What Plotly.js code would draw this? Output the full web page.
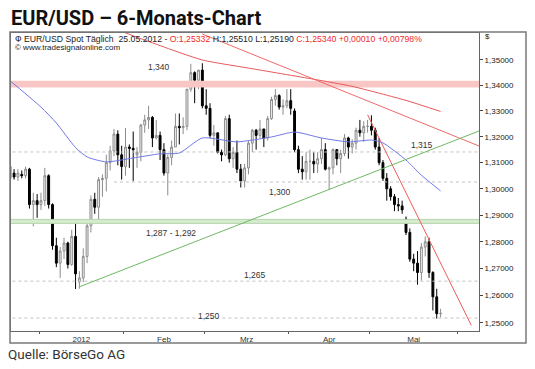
<!DOCTYPE html>
<html><head><meta charset="utf-8">
<script src="https://cdn.plot.ly/plotly-3.0.1.min.js"></script>
<style>html,body{margin:0;padding:0;background:#fff}#chart{width:535px;height:369px}</style>
</head><body><div id="chart"></div>
<script>
// ---------- DATA ----------
const dates = [
'2011-12-21','2011-12-22','2011-12-23','2011-12-26','2011-12-27','2011-12-28','2011-12-29','2011-12-30',
'2012-01-02','2012-01-03','2012-01-04','2012-01-05','2012-01-06','2012-01-09','2012-01-10','2012-01-11','2012-01-12','2012-01-13',
'2012-01-16','2012-01-17','2012-01-18','2012-01-19','2012-01-20','2012-01-23','2012-01-24','2012-01-25','2012-01-26','2012-01-27','2012-01-30','2012-01-31',
'2012-02-01','2012-02-02','2012-02-03','2012-02-06','2012-02-07','2012-02-08','2012-02-09','2012-02-10','2012-02-13','2012-02-14','2012-02-15',
'2012-02-16','2012-02-17','2012-02-20','2012-02-21','2012-02-22','2012-02-23','2012-02-24','2012-02-27','2012-02-28','2012-02-29',
'2012-03-01','2012-03-02','2012-03-05','2012-03-06','2012-03-07','2012-03-08','2012-03-09','2012-03-12','2012-03-13','2012-03-14','2012-03-15',
'2012-03-16','2012-03-19','2012-03-20','2012-03-21','2012-03-22','2012-03-23','2012-03-26','2012-03-27','2012-03-28','2012-03-29','2012-03-30',
'2012-04-02','2012-04-03','2012-04-04','2012-04-05','2012-04-06','2012-04-09','2012-04-10','2012-04-11','2012-04-12','2012-04-13','2012-04-16',
'2012-04-17','2012-04-18','2012-04-19','2012-04-20','2012-04-23','2012-04-24','2012-04-25','2012-04-26','2012-04-27','2012-04-30',
'2012-05-01','2012-05-02','2012-05-03','2012-05-04','2012-05-07','2012-05-08','2012-05-09','2012-05-10','2012-05-11','2012-05-14',
'2012-05-15','2012-05-16','2012-05-17','2012-05-18','2012-05-21','2012-05-22','2012-05-23','2012-05-24','2012-05-25'];

const open = [
1.3040,1.3060,1.3045,1.3055,1.3050,1.3075,1.2940,1.2955,
1.2940,1.2955,1.3050,1.2940,1.2785,1.2720,1.2765,1.2795,1.2715,1.2820,
1.2650,1.2665,1.2745,1.2860,1.2960,1.2930,1.3035,1.3040,1.3100,1.3145,1.3210,1.3130,
1.3085,1.3160,1.3155,1.3130,1.3140,1.3245,1.3265,1.3275,1.3195,1.3205,1.3150,
1.3060,1.3120,1.3160,1.3240,1.3235,1.3240,1.3385,1.3450,1.3420,1.3460,
1.3320,1.3310,1.3205,1.3215,1.3140,1.3130,1.3270,1.3115,1.3140,1.3075,1.3030,
1.3080,1.3175,1.3225,1.3205,1.3230,1.3195,1.3270,1.3345,1.3360,1.3315,1.3320,
1.3340,1.3300,1.3150,1.3075,1.3065,1.3105,1.3105,1.3095,1.3115,1.3150,1.3075,
1.3080,1.3150,1.3115,1.3135,1.3195,1.3160,1.3175,1.3225,1.3215,1.3240,
1.3240,1.3225,1.3160,1.3100,1.3040,1.3000,1.2970,1.2940,1.2935,1.2885,
1.2835,1.2735,1.2720,1.2685,1.2780,1.2800,1.2685,1.2595,1.25332];
const high = [
1.3095,1.3075,1.3075,1.3070,1.3085,1.3080,1.2985,1.2980,
1.2985,1.3080,1.3055,1.2945,1.2815,1.2780,1.2815,1.2800,1.2845,1.2880,
1.2690,1.2775,1.2870,1.2975,1.2985,1.3045,1.3055,1.3130,1.3165,1.3230,1.3225,1.3165,
1.3234,1.3170,1.3220,1.3160,1.3250,1.3285,1.3320,1.3280,1.3265,1.3220,1.3175,
1.3130,1.3185,1.3290,1.3290,1.3275,1.3385,1.3485,1.3455,1.3460,1.3487,
1.3385,1.3330,1.3245,1.3215,1.3150,1.3280,1.3285,1.3160,1.3185,1.3095,1.3095,
1.3185,1.3230,1.3230,1.3265,1.3230,1.3280,1.3355,1.3385,1.3365,1.3345,1.3385,
1.3385,1.3310,1.3165,1.3125,1.3140,1.3150,1.3140,1.3140,1.3195,1.3175,1.3085,
1.3155,1.3150,1.3150,1.3210,1.3200,1.3190,1.3235,1.3265,1.3260,1.3265,
1.3283,1.3235,1.3195,1.3110,1.3060,1.3010,1.2980,1.2965,1.2955,1.2895,
1.2850,1.2755,1.2765,1.2795,1.2820,1.2815,1.2690,1.2625,1.25510];
const low = [
1.3015,1.3035,1.3030,1.3040,1.3040,1.2925,1.2858,1.2890,
1.2920,1.2935,1.2925,1.2770,1.2705,1.2665,1.2735,1.2700,1.2710,1.2624,
1.2625,1.2650,1.2720,1.2835,1.2905,1.2880,1.2970,1.2990,1.3070,1.3125,1.3090,1.3035,
1.3050,1.3080,1.3030,1.3080,1.3105,1.3215,1.3230,1.3160,1.3190,1.3110,1.3050,
1.2975,1.3090,1.3160,1.3170,1.3210,1.3225,1.3375,1.3330,1.3385,1.3310,
1.3285,1.3195,1.3165,1.3135,1.3105,1.3125,1.3100,1.3080,1.3060,1.3005,1.3005,
1.3055,1.3140,1.3150,1.3195,1.3160,1.3185,1.3265,1.3320,1.3305,1.3285,1.3310,
1.3285,1.3140,1.3060,1.3035,1.3035,1.3035,1.3060,1.3060,1.3095,1.3070,1.2995,
1.3055,1.3090,1.3060,1.3125,1.3115,1.3135,1.3150,1.3200,1.3180,1.3215,
1.3205,1.3150,1.3090,1.3030,1.2955,1.2955,1.2915,1.2915,1.2905,1.2825,
1.2725,1.2690,1.2640,1.2655,1.2745,1.2665,1.2545,1.2515,1.25190];
const close = [
1.3085,1.3045,1.3060,1.3050,1.3075,1.2940,1.2955,1.2940,
1.2955,1.3050,1.2940,1.2785,1.2720,1.2765,1.2795,1.2715,1.2820,1.2680,
1.2665,1.2745,1.2860,1.2960,1.2930,1.3035,1.3040,1.3100,1.3145,1.3210,1.3130,1.3085,
1.3160,1.3155,1.3150,1.3140,1.3245,1.3265,1.3275,1.3195,1.3205,1.3150,1.3060,
1.3120,1.3160,1.3240,1.3235,1.3240,1.3385,1.3450,1.3420,1.3460,1.3320,
1.3310,1.3205,1.3215,1.3140,1.3130,1.3270,1.3115,1.3140,1.3075,1.3030,1.3080,
1.3175,1.3225,1.3205,1.3230,1.3195,1.3270,1.3345,1.3360,1.3315,1.3320,1.3340,
1.3310,1.3150,1.3075,1.3065,1.3105,1.3105,1.3095,1.3115,1.3150,1.3075,1.3080,
1.3150,1.3115,1.3135,1.3195,1.3160,1.3175,1.3225,1.3215,1.3240,1.3240,
1.3225,1.3160,1.3100,1.3040,1.3000,1.2970,1.2940,1.2935,1.2920,1.2835,
1.2735,1.2720,1.2685,1.2780,1.2800,1.2685,1.2595,1.25330,1.25340];

// moving average (blue)
const maBlueDates = ['2011-12-20','2012-01-02','2012-01-06','2012-01-13','2012-01-18','2012-01-25','2012-02-03','2012-02-14','2012-02-21','2012-02-29','2012-03-13','2012-03-26','2012-04-03','2012-04-12','2012-04-23','2012-05-01','2012-05-04','2012-05-14','2012-05-18','2012-05-25'];
const maBlueValues = [1.3430,1.3315,1.3253,1.3158,1.3122,1.3103,1.3118,1.3134,1.3137,1.3195,1.3180,1.3199,1.3218,1.3195,1.3180,1.3187,1.3176,1.3110,1.3052,1.2992];
// moving average (red)
const maRedDates = ['2012-01-27','2012-02-08','2012-02-29','2012-03-16','2012-04-10','2012-04-24','2012-05-14','2012-05-25'];
const maRedValues = [1.3625,1.3579,1.3500,1.3468,1.3424,1.3396,1.3341,1.3298];

// trend lines
const trendRedLongDates = ['2012-02-29','2012-06-08'];
const trendRedLongValues = [1.3603,1.3164];
const trendRedSteepDates = ['2012-04-30','2012-06-06'];
const trendRedSteepValues = [1.3285,1.2490];
const trendGreenDates = ['2012-01-16','2012-06-08'];
const trendGreenValues = [1.2632,1.3222];

// horizontal levels
const levelValues = [1.3141,1.3026,1.2653,1.2517];
const levelStart = ['2011-12-20','2012-01-27','2011-12-20','2011-12-20'];
const levelLabels = ['1,315','1,300','1,265','1,250'];
const resistanceBand = [1.3392,1.3418];
const resistanceLabel = '1,340';
const supportBand = [1.2869,1.2884];
const supportLabel = '1,287 - 1,292';

const monthStarts = ['2012-01-02','2012-02-01','2012-03-01','2012-04-02','2012-05-01','2012-06-01'];
const monthLabels = ['2012','Feb','Mrz','Apr','Mai'];
const yTickValues = [1.25,1.26,1.27,1.28,1.29,1.30,1.31,1.32,1.33,1.34,1.35];

// ---------- HELPERS ----------
function tIdx(s){
  const day=86400000, base=Date.UTC(2012,0,2);
  const p=s.split('-').map(Number), t=Date.UTC(p[0],p[1]-1,p[2]);
  let n=0;
  if(t>=base){for(let c=base+day;c<=t;c+=day){const w=new Date(c).getUTCDay(); if(w>0&&w<6)n++;}}
  else{for(let c=t;c<base;c+=day){const w=new Date(c).getUTCDay(); if(w>0&&w<6)n--;}}
  return n;
}
const fmt5 = v => v.toFixed(5).replace('.',',');
const W=535,H=369, L=11,R=56,T=33,B=38;
const PW=W-L-R, PH=H-T-B;
const px = x => (x-L)/PW;
const py = y => (H-B-y)/PH;

const X = dates.map(tIdx);
const xLeft = tIdx('2011-12-20'), xRight = tIdx('2012-06-11');
const traces = [];
const FONT = 'Liberation Sans, Arial, sans-serif';

function band(v, fill, edge){
  traces.push({type:'scatter',mode:'lines',x:[xLeft,xRight,xRight,xLeft,xLeft],y:[v[0],v[0],v[1],v[1],v[0]],
    fill:'toself',fillcolor:fill,line:{width:edge?1:0,color:edge||fill},hoverinfo:'skip',showlegend:false});
}
band(resistanceBand,'#f9c6c6',null);
band(supportBand,'#d6ead0','#b4d6aa');

levelValues.forEach((v,i)=>{
  traces.push({type:'scatter',mode:'lines',x:[tIdx(levelStart[i]),xRight],y:[v,v],
    line:{color:'#c2c2c2',width:1,dash:'dot'},hoverinfo:'skip',showlegend:false});
});

traces.push({type:'candlestick',x:X,open:open,high:high,low:low,close:close,
  increasing:{line:{color:'#8c8c8c',width:1},fillcolor:'#f4f4f4'},
  decreasing:{line:{color:'#000000',width:1},fillcolor:'#000000'},
  whiskerwidth:0,hoverinfo:'skip',showlegend:false});

function line(ds,vs,color){
  traces.push({type:'scatter',mode:'lines',x:ds.map(tIdx),y:vs,line:{color:color,width:1,shape:'spline',smoothing:0.6},hoverinfo:'skip',showlegend:false});
}
line(maBlueDates,maBlueValues,'#6f78e6');
line(maRedDates,maRedValues,'#e8595b');
line(trendRedLongDates,trendRedLongValues,'#ee6a6a');
line(trendRedSteepDates,trendRedSteepValues,'#f05a5a');
line(trendGreenDates,trendGreenValues,'#6fb865');

// month ticks
const bounds = monthStarts.map(d=>tIdx(d)-0.5);
const centers = monthLabels.map((_,i)=>(bounds[i]+bounds[i+1])/2);

// header text from data
const n = close.length-1;
const chg = close[n]-close[n-1];
const pct = chg/close[n-1]*100;
const sign = v => (v>=0?'+':'-');
const RED = '#f02a2a';
const d = dates[n].split('-');
const header = 'Ф EUR/USD Spot Täglich  '+d[2]+'.'+d[1]+'.'+d[0]+' - '+
  '<span style="color:'+RED+'">O:'+fmt5(open[n])+'</span> H:'+fmt5(high[n])+' L:'+fmt5(low[n])+' '+
  '<span style="color:'+RED+'">C:'+fmt5(close[n])+' '+sign(chg)+fmt5(Math.abs(chg))+' '+sign(pct)+fmt5(Math.abs(pct))+'%</span>';

const ann = [
  {text:'<b>EUR/USD – 6-Monats-Chart</b>',x:px(9),y:py(18),xanchor:'left',yanchor:'middle',font:{family:'Roboto, Arial',size:20,color:'#111'},},
  {text:'Quelle: BörseGo AG',x:px(6),y:py(354),xanchor:'left',yanchor:'middle',font:{family:'Roboto, Arial',size:13.5,color:'#333'}},
  {text:header,x:px(13),y:py(39),xanchor:'left',yanchor:'middle',font:{family:FONT,size:8.7,color:'#222'}},
  {text:'© www.tradesignalonline.com',x:px(13),y:py(48),xanchor:'left',yanchor:'middle',font:{family:FONT,size:8,color:'#222'}},
  {text:'$',x:px(483),y:py(37),xanchor:'left',yanchor:'middle',font:{family:FONT,size:8,color:'#222'}},
  {text:resistanceLabel,x:px(159),y:py(67),xanchor:'center',yanchor:'middle',font:{family:FONT,size:8.5,color:'#333'}},
  {text:supportLabel,x:px(171),y:py(233),xanchor:'center',yanchor:'middle',font:{family:FONT,size:8.5,color:'#333'}},
  {text:levelLabels[0],x:px(422),y:py(145),xanchor:'center',yanchor:'middle',font:{family:FONT,size:8.5,color:'#333'}},
  {text:levelLabels[1],x:px(280),y:py(192),xanchor:'center',yanchor:'middle',font:{family:FONT,size:8.5,color:'#333'}},
  {text:levelLabels[2],x:px(255),y:py(275),xanchor:'center',yanchor:'middle',font:{family:FONT,size:8.5,color:'#333'}},
  {text:levelLabels[3],x:px(209),y:py(316),xanchor:'center',yanchor:'middle',font:{family:FONT,size:8.5,color:'#333'}},
].map(a=>Object.assign({xref:'paper',yref:'paper',showarrow:false},a));

const layout = {
  width:W,height:H,margin:{l:L,r:R,t:T,b:B,pad:0},
  paper_bgcolor:'#fff',plot_bgcolor:'#fff',showlegend:false,
  xaxis:{type:'linear',range:[-7.8,114],tickmode:'array',tickvals:centers,ticktext:monthLabels,ticks:'',
    showgrid:false,zeroline:false,showline:true,linecolor:'#666',linewidth:1,mirror:true,
    tickfont:{family:FONT,size:8,color:'#333'},
    minor:{tickmode:'array',tickvals:bounds,ticks:'outside',ticklen:2,tickcolor:'#555',showgrid:false},
    rangeslider:{visible:false},fixedrange:true},
  yaxis:{type:'log',side:'right',range:[Math.log10(1.24696),Math.log10(1.36071)],tickmode:'array',
    tickvals:yTickValues,ticktext:yTickValues.map(fmt5),ticks:'outside',ticklen:3,tickcolor:'#444',
    showgrid:false,zeroline:false,showline:true,linecolor:'#666',linewidth:1,mirror:true,
    tickfont:{family:FONT,size:8,color:'#222'},fixedrange:true},
  annotations:ann,
  shapes:[
    {type:'rect',xref:'paper',yref:'paper',x0:px(10),x1:px(526),y0:py(343),y1:py(32),line:{color:'#7a7a7a',width:1.5}}
  ]
};
Plotly.newPlot('chart',traces,layout,{staticPlot:true,displayModeBar:false});
</script>
</body></html>
